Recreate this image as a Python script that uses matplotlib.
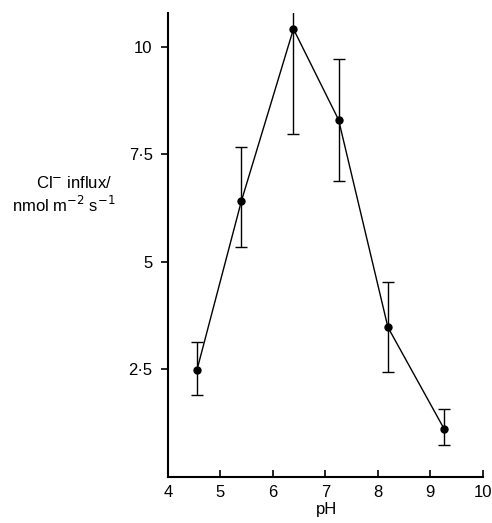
import matplotlib
matplotlib.use("Agg")
import matplotlib.pyplot as plt

# data
ph = [4.55, 5.40, 6.39, 7.25, 8.19, 9.26]
influx = [2.48, 6.42, 10.41, 8.30, 3.48, 1.12]
err_low = [1.90, 5.34, 7.96, 6.87, 2.44, 0.75]
err_high = [3.14, 7.66, 11.0, 9.71, 4.53, 1.57]

xticks = [4, 5, 6, 7, 8, 9, 10]
yticks = [2.5, 5, 7.5, 10]
ytick_labels = ["2\u00b75", "5", "7\u00b75", "10"]

plt.rcParams["font.family"] = ["Liberation Sans", "DejaVu Sans"]

fig = plt.figure(figsize=(4.92, 5.23), dpi=100)
ax = fig.add_axes([0.3415, 0.088, 0.640, 0.887])

yerr = [[v - lo for v, lo in zip(influx, err_low)],
        [hi - v for v, hi in zip(influx, err_high)]]
ax.errorbar(ph, influx, yerr=yerr, fmt="-o", color="black", lw=1.0,
            elinewidth=1.0, capsize=4, capthick=1.0, markersize=5)

ax.set_xlim(4, 10)
ax.set_ylim(0, 10.78)
ax.set_xticks(xticks)
ax.set_yticks(yticks)
ax.set_yticklabels(ytick_labels)

for s in ["top", "right"]:
    ax.spines[s].set_visible(False)
for s in ["left", "bottom"]:
    ax.spines[s].set_linewidth(1.5)

ax.tick_params(axis="x", direction="in", length=5, width=1.2, labelsize=12, pad=6)
ax.tick_params(axis="y", direction="out", length=5, width=1.2, labelsize=12, pad=6)

fig.text(0.663, 0.025, "pH", ha="center", va="center", fontsize=12)
fig.text(0.073, 0.65, "Cl$^{-}$ influx/", ha="left", va="center", fontsize=12)
fig.text(0.024, 0.608, "nmol m$^{-2}$ s$^{-1}$", ha="left", va="center", fontsize=12)

fig.savefig("out.png", dpi=100)
